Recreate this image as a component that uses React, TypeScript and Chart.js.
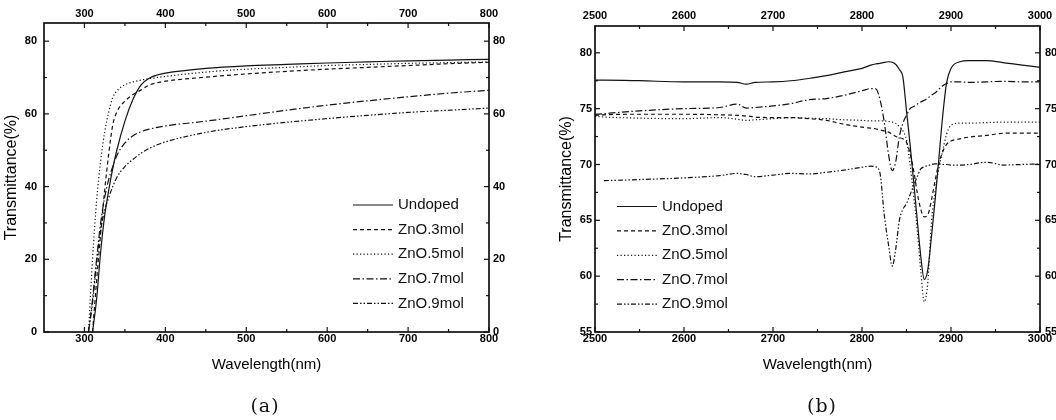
import React, { useEffect, useRef } from "react";
import { Chart, registerables } from "chart.js";

Chart.register(...registerables);

const FONT = "'Liberation Sans', Arial, sans-serif";
const INK = "#111";

const SERIES_NAMES = ["Undoped", "ZnO.3mol", "ZnO.5mol", "ZnO.7mol", "ZnO.9mol"];
const LINE_DASHES: number[][] = [[], [4, 3], [1.2, 2.3], [7, 2.5, 1.5, 2.5], [5, 2, 1.5, 2, 1.5, 2]];

// ---------- panel (a): UV-Vis ----------
const WAVELENGTH_A = [305, 310, 315, 320, 325, 330, 335, 340, 350, 360, 370, 380, 390, 400, 450, 500, 550, 600, 650, 700, 750, 800];
const UNDOPED_A = [null, 0, 9, 22, 32, 39, 45, 50, 58, 64, 68, 69.8, 70.7, 71.2, 72.5, 73.2, 73.6, 74.0, 74.3, 74.6, 74.8, 75.0];
const ZNO3_A = [null, 0, 14, 27, 39, 49, 57, 60.5, 63.5, 65.3, 66.6, 67.9, 68.6, 69.0, 70.1, 71.0, 71.7, 72.3, 72.8, 73.3, 73.8, 74.2];
const ZNO5_A = [0, 20, 36, 47, 55, 60.5, 64.5, 66.3, 68.0, 68.8, 69.3, 69.7, 70.0, 70.3, 71.5, 72.3, 72.8, 73.3, 73.6, 73.9, 74.1, 74.3];
const ZNO7_A = [0, 9, 20, 30, 37, 42, 45.5, 48.5, 52, 54, 55.1, 55.8, 56.3, 56.7, 58.0, 59.5, 61.0, 62.4, 63.6, 64.7, 65.7, 66.5];
const ZNO9_A = [0, 8, 19, 28, 33.5, 37, 40, 42.5, 45.5, 47.5, 49.2, 50.5, 51.5, 52.3, 54.9, 56.5, 57.7, 58.7, 59.6, 60.4, 61.0, 61.6];
const X_TICKS_A = [300, 400, 500, 600, 700, 800];
const X_MINOR_A = [350, 450, 550, 650, 750];
const Y_TICKS_A = [0, 20, 40, 60, 80];
const Y_MINOR_A = [10, 30, 50, 70];

// ---------- panel (b): IR ----------
const WAVELENGTH_B = [2500, 2510, 2550, 2600, 2640, 2660, 2670, 2680, 2700, 2720, 2740, 2760, 2780, 2800, 2810, 2815, 2820, 2825, 2830, 2834, 2838, 2842, 2846, 2850, 2854, 2858, 2862, 2866, 2870, 2874, 2878, 2882, 2886, 2890, 2895, 2900, 2910, 2920, 2940, 2960, 2980, 3000];
const UNDOPED_B = [77.55, 77.55, 77.5, 77.4, 77.4, 77.35, 77.2, 77.35, 77.4, 77.5, 77.7, 77.95, 78.3, 78.6, 78.9, 79.0, 79.05, 79.15, 79.2, 79.15, 78.95, 78.5, 77.8, 74.8, 71.8, 68.5, 65.1, 61.8, 59.7, 60.6, 63.5, 66.7, 70.2, 73.8, 77.3, 78.6, 79.2, 79.3, 79.3, 79.1, 78.9, 78.7];
const ZNO3_B = [74.4, 74.45, 74.5, 74.5, 74.45, 74.4, 74.35, 74.25, 74.2, 74.2, 74.1, 73.95, 73.6, 73.35, 73.25, 73.2, 73.1, 73.0, 72.9, 72.7, 72.5, 72.4, 72.3, 72.0, 71.0, 69.5, 67.5, 66.0, 65.3, 65.5, 66.8, 68.5, 70.0, 71.0, 71.8, 72.1, 72.3, 72.45, 72.6, 72.8, 72.8, 72.8];
const ZNO5_B = [74.3, 74.25, 74.15, 74.1, 74.2, 74.05, 73.95, 74.0, 74.1, 74.2, 74.15, 74.1, 74.0, 73.95, 73.9, 73.9, 73.9, 73.9, 73.85, 73.8, 73.7, 73.4, 73.0, 72.2, 70.0, 67.2, 64.2, 60.5, 57.7, 59.5, 64.8, 67.5, 69.5, 71.0, 72.7, 73.5, 73.7, 73.7, 73.75, 73.8, 73.8, 73.8];
const ZNO7_B = [74.48, 74.55, 74.8, 75.0, 75.1, 75.4, 75.05, 75.1, 75.25, 75.45, 75.8, 75.9, 76.2, 76.6, 76.8, 76.8, 75.9, 73.8, 70.8, 69.45, 70.3, 72.5, 73.7, 74.4, 75.0, 75.2, 75.4, 75.6, 75.75, 75.95, 76.2, 76.4, 76.7, 77.0, 77.25, 77.4, 77.4, 77.35, 77.4, 77.45, 77.4, 77.4];
const ZNO9_B = [null, 68.55, 68.65, 68.8, 69.0, 69.2, 69.1, 68.9, 69.05, 69.2, 69.15, 69.3, 69.5, 69.75, 69.85, 69.8, 69.3, 65.5, 62.7, 60.9, 62.5, 65.0, 66.0, 66.5, 67.3, 68.1, 68.9, 69.6, 69.8, 69.9, 70.0, 70.05, 70.05, 70.0, 70.0, 69.95, 69.95, 70.0, 70.2, 69.95, 70.0, 70.05];
const X_TICKS_B = [2500, 2600, 2700, 2800, 2900, 3000];
const X_MINOR_B = [2550, 2650, 2750, 2850, 2950];
const Y_TICKS_B = [55, 60, 65, 70, 75, 80];
const Y_MINOR_B = [57.5, 62.5, 67.5, 72.5, 77.5];

type Panel = {
  width: number;
  height: number;
  wavelengths: number[];
  series: (number | null)[][];
  xMin: number; xMax: number; yMin: number; yMax: number;
  xTicks: number[]; xMinor: number[]; yTicks: number[]; yMinor: number[];
  box: { left: number; right: number; top: number; bottom: number };
  yTitlePad: number; yLabelPad: number; y2LabelPad: number; x2LabelPad: number;
  legend: { x: number; y: number; gap: number };
};

function framePlugin(p: Panel) {
  return {
    id: "frame",
    afterDatasetsDraw(chart: any) {
      const { ctx, chartArea: a } = chart;
      const xs = chart.scales.x;
      const ys = chart.scales.y;
      const line = (x1: number, y1: number, x2: number, y2: number) => {
        ctx.beginPath();
        ctx.moveTo(x1, y1);
        ctx.lineTo(x2, y2);
        ctx.stroke();
      };
      ctx.save();
      ctx.strokeStyle = INK;
      ctx.setLineDash([]);
      ctx.lineWidth = 1.2;
      const vTick = (v: number, len: number) => {
        const px = xs.getPixelForValue(v);
        line(px, a.bottom, px, a.bottom - len);
        line(px, a.top, px, a.top + len);
      };
      const hTick = (v: number, len: number) => {
        const py = ys.getPixelForValue(v);
        line(a.left, py, a.left + len, py);
        line(a.right, py, a.right - len, py);
      };
      p.xTicks.forEach((v) => vTick(v, 5));
      p.xMinor.forEach((v) => vTick(v, 3));
      p.yTicks.forEach((v) => hTick(v, 5));
      p.yMinor.forEach((v) => hTick(v, 3));
      ctx.lineWidth = 1.7;
      ctx.strokeRect(a.left, a.top, a.right - a.left, a.bottom - a.top);

      // legend
      ctx.font = `15px ${FONT}`;
      ctx.fillStyle = INK;
      ctx.textBaseline = "middle";
      ctx.textAlign = "left";
      chart.data.datasets.forEach((ds: any, i: number) => {
        const y = p.legend.y + i * p.legend.gap;
        ctx.lineWidth = 1.2;
        ctx.setLineDash(ds.borderDash || []);
        line(p.legend.x, y, p.legend.x + 40, y);
        ctx.setLineDash([]);
        ctx.fillText(ds.label, p.legend.x + 45, y);
      });
      ctx.restore();
    },
  };
}

function makeConfig(p: Panel): any {
  const tickFont = { family: FONT, size: 11, weight: "bold" as const };
  const fix = (vals: number[]) => (scale: any) => {
    scale.ticks = vals.map((v) => ({ value: v }));
  };
  const common = {
    type: "linear",
    grid: { display: false, drawTicks: false },
    border: { display: false },
  };
  const tickOpts = (padding: number) => ({
    font: tickFont,
    color: "#000",
    padding,
    autoSkip: false,
    maxRotation: 0,
    callback: (v: any) => String(v),
  });
  return {
    type: "line",
    data: {
      datasets: p.series.map((s, i) => ({
        label: SERIES_NAMES[i],
        data: p.wavelengths.map((x, j) => ({ x, y: s[j] })),
        borderColor: INK,
        borderWidth: 1.2,
        borderDash: LINE_DASHES[i],
        pointRadius: 0,
        fill: false,
        cubicInterpolationMode: "monotone",
        spanGaps: false,
        xAxisID: "x",
        yAxisID: "y",
      })),
    },
    options: {
      responsive: false,
      animation: false,
      events: [],
      layout: { padding: 0 },
      plugins: { legend: { display: false }, tooltip: { enabled: false } },
      scales: {
        x: {
          ...common,
          position: "bottom",
          min: p.xMin,
          max: p.xMax,
          afterBuildTicks: fix(p.xTicks),
          afterFit: (s: any) => { s.height = p.box.bottom; },
          ticks: tickOpts(0),
          title: {
            display: true,
            text: "Wavelength(nm)",
            color: "#000",
            font: { family: FONT, size: 15 },
            padding: { top: 0, bottom: 46 },
          },
        },
        x2: {
          ...common,
          position: "top",
          min: p.xMin,
          max: p.xMax,
          afterBuildTicks: fix(p.xTicks),
          afterFit: (s: any) => { s.height = p.box.top; },
          ticks: tickOpts(p.x2LabelPad),
        },
        y: {
          ...common,
          position: "left",
          min: p.yMin,
          max: p.yMax,
          afterBuildTicks: fix(p.yTicks),
          afterFit: (s: any) => { s.width = p.box.left; },
          ticks: tickOpts(p.yLabelPad),
          title: {
            display: true,
            text: "Transmittance(%)",
            color: "#000",
            font: { family: FONT, size: 16 },
            padding: { top: p.yTitlePad, bottom: 0 },
          },
        },
        y2: {
          ...common,
          position: "right",
          min: p.yMin,
          max: p.yMax,
          afterBuildTicks: fix(p.yTicks),
          afterFit: (s: any) => { s.width = p.box.right; },
          ticks: tickOpts(p.y2LabelPad),
        },
      },
    },
    plugins: [framePlugin(p)],
  };
}

const PANEL_A: Panel = {
  width: 520,
  height: 420,
  wavelengths: WAVELENGTH_A,
  series: [UNDOPED_A, ZNO3_A, ZNO5_A, ZNO7_A, ZNO9_A],
  xMin: 250, xMax: 800, yMin: 0, yMax: 85,
  xTicks: X_TICKS_A, xMinor: X_MINOR_A, yTicks: Y_TICKS_A, yMinor: Y_MINOR_A,
  box: { left: 44, right: 31, top: 23, bottom: 88 },
  yTitlePad: 2.4, yLabelPad: 7, y2LabelPad: 4, x2LabelPad: 2,
  legend: { x: 353, y: 205, gap: 24.6 },
};

const PANEL_B: Panel = {
  width: 528,
  height: 420,
  wavelengths: WAVELENGTH_B,
  series: [UNDOPED_B, ZNO3_B, ZNO5_B, ZNO7_B, ZNO9_B],
  xMin: 2500, xMax: 3000, yMin: 55, yMax: 82.4,
  xTicks: X_TICKS_B, xMinor: X_MINOR_B, yTicks: Y_TICKS_B, yMinor: Y_MINOR_B,
  box: { left: 67, right: 16, top: 26, bottom: 88 },
  yTitlePad: 29.4, yLabelPad: 3, y2LabelPad: 5, x2LabelPad: 3,
  legend: { x: 89, y: 206.5, gap: 24.4 },
};

function PanelChart({ panel, left }: { panel: Panel; left: number }) {
  const ref = useRef<HTMLCanvasElement | null>(null);
  useEffect(() => {
    if (!ref.current) return;
    const chart = new Chart(ref.current, makeConfig(panel));
    return () => chart.destroy();
  }, [panel]);
  return (
    <canvas
      ref={ref}
      width={panel.width}
      height={panel.height}
      style={{ position: "absolute", left, top: 0, width: panel.width, height: panel.height }}
    />
  );
}

const captionStyle = (cx: number): React.CSSProperties => ({
  position: "absolute",
  left: cx - 40,
  width: 80,
  top: 393,
  height: 24,
  lineHeight: "24px",
  textAlign: "center",
  fontFamily: "'DejaVu Serif', serif",
  fontSize: 19,
  letterSpacing: 1,
  color: "#111",
});

export default function App() {
  return (
    <div
      style={{
        position: "fixed",
        left: 0,
        top: 0,
        width: 1056,
        height: 420,
        background: "#fff",
        overflow: "hidden",
      }}
    >
      <PanelChart panel={PANEL_A} left={0} />
      <PanelChart panel={PANEL_B} left={528} />
      <div style={captionStyle(265)}>(a)</div>
      <div style={captionStyle(822)}>(b)</div>
    </div>
  );
}
